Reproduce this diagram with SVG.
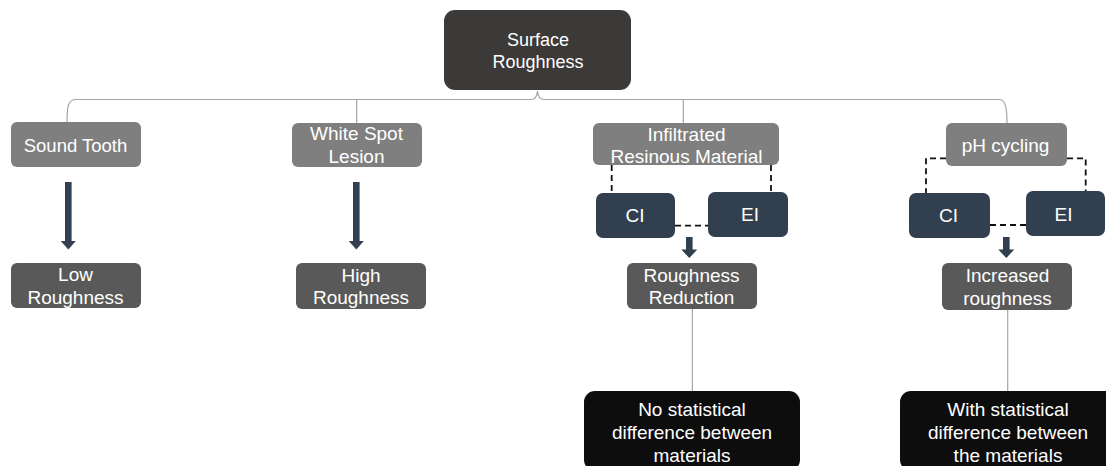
<svg xmlns="http://www.w3.org/2000/svg" width="1106" height="466" viewBox="0 0 1106 466">
<style>
text{font-family:"Liberation Sans",Arial,sans-serif;fill:#ffffff;text-anchor:middle;font-size:19px}
.root{fill:#3b3a38}
.cat{fill:#7f7f7f}
.res{fill:#595959}
.mat{fill:#323f4f}
.fin{fill:#0d0d0d}
.thin{fill:none;stroke:#a6a6a6;stroke-width:1.2}
.dash{fill:none;stroke:#111111;stroke-width:1.8;stroke-dasharray:6 4}
.arr{fill:#323f4f}
</style>
<g id="connectors">
<path class="thin" d="M67,122 C67,106 68,99.5 76,99.5 H531 C535,99.5 537,97 537.5,91 C538,97 540,99.5 544,99.5 H999 C1005,99.5 1007,106 1007,123"/>
<path class="thin" d="M356.7,99.5 V123"/>
<path class="thin" d="M683.3,99.5 V123"/>
<path class="thin" d="M692.4,309 V392"/>
<path class="thin" d="M1007.7,310 V392"/>
<path class="dash" d="M611.7,165 V193"/>
<path class="dash" d="M771,165 V192"/>
<path class="dash" d="M675,225.7 H708"/>
<path class="dash" d="M946,158.3 H926 V193"/>
<path class="dash" d="M1067,158.3 H1085.7 V191"/>
<path class="dash" d="M990,225 H1026"/>
<path class="arr" d="M65,182 H71.6 V241 H75.8 L68.3,249.5 L60.8,241 H65 Z"/>
<path class="arr" d="M353,182 H359.6 V241 H363.8 L356.3,249.5 L348.8,241 H353 Z"/>
<path class="arr" d="M686,237 H692.6 V249.5 H697.3 L689.3,258 L681.3,249.5 H686 Z"/>
<path class="arr" d="M1003,237 H1009.6 V249.5 H1014.3 L1006.3,258 L998.3,249.5 H1003 Z"/>
</g>
<g id="root">
<rect class="root" x="444" y="10" width="187" height="80" rx="11"/>
<text x="538" y="46" style="font-size:18px">Surface</text>
<text x="538" y="68" style="font-size:18px">Roughness</text>
</g>
<g id="sound-tooth">
<rect class="cat" x="11" y="122" width="130" height="45" rx="6"/>
<text x="75.5" y="151.5" style="font-size:18.5px">Sound Tooth</text>
</g>
<g id="white-spot">
<rect class="cat" x="292" y="123" width="130" height="44" rx="6"/>
<text x="356.5" y="140">White Spot</text>
<text x="356.5" y="162.5">Lesion</text>
</g>
<g id="infiltrated">
<rect class="cat" x="593" y="123" width="186" height="42" rx="6"/>
<text x="686.5" y="140.5">Infiltrated</text>
<text x="686.5" y="163">Resinous Material</text>
</g>
<g id="ph-cycling">
<rect class="cat" x="946" y="123" width="121" height="43" rx="6"/>
<text x="1005.5" y="151.5">pH cycling</text>
</g>
<g id="ci-1">
<rect class="mat" x="596" y="193" width="79" height="45" rx="7"/>
<text x="635" y="221.5">CI</text>
</g>
<g id="ei-1">
<rect class="mat" x="708" y="192" width="80" height="45" rx="7"/>
<text x="750" y="221">EI</text>
</g>
<g id="ci-2">
<rect class="mat" x="909" y="193" width="81" height="45" rx="7"/>
<text x="948.5" y="221.5">CI</text>
</g>
<g id="ei-2">
<rect class="mat" x="1026" y="191" width="79" height="45" rx="7"/>
<text x="1063.5" y="220.5">EI</text>
</g>
<g id="low-roughness">
<rect class="res" x="11" y="263" width="130" height="45" rx="6"/>
<text x="75.5" y="281">Low</text>
<text x="75.5" y="303.5">Roughness</text>
</g>
<g id="high-roughness">
<rect class="res" x="296" y="263" width="130" height="46" rx="6"/>
<text x="361" y="281.5">High</text>
<text x="361" y="304">Roughness</text>
</g>
<g id="roughness-reduction">
<rect class="res" x="627" y="263" width="130" height="46" rx="6"/>
<text x="691.5" y="281.5">Roughness</text>
<text x="691.5" y="304">Reduction</text>
</g>
<g id="increased-roughness">
<rect class="res" x="942" y="263" width="130" height="47" rx="6"/>
<text x="1007.5" y="282">Increased</text>
<text x="1007.5" y="304.5">roughness</text>
</g>
<g id="no-difference">
<rect class="fin" x="584" y="391" width="216" height="80" rx="11"/>
<text x="692" y="416">No statistical</text>
<text x="692" y="439">difference between</text>
<text x="692" y="461.5">materials</text>
</g>
<g id="with-difference">
<rect class="fin" x="900" y="391" width="216" height="80" rx="11"/>
<text x="1008" y="416">With statistical</text>
<text x="1008" y="439">difference between</text>
<text x="1008" y="461.5">the materials</text>
</g>
</svg>
